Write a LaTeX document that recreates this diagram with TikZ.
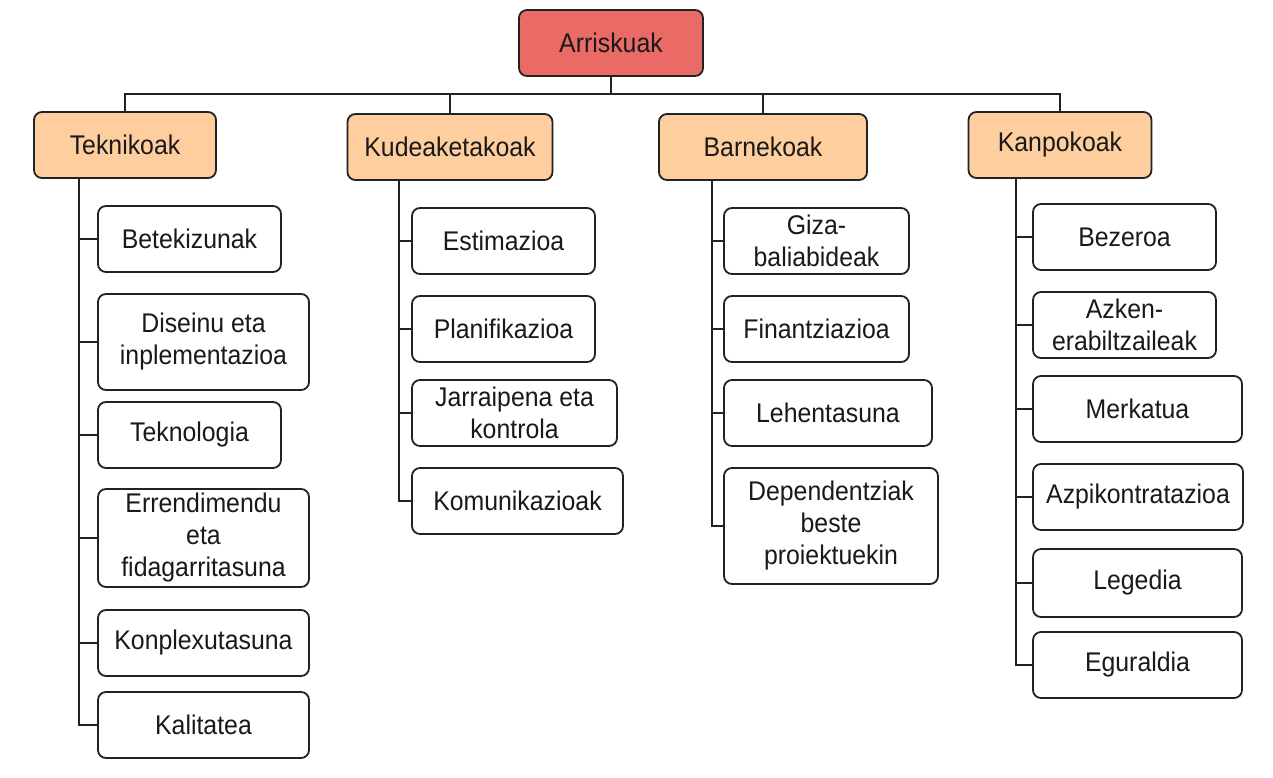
\documentclass[tikz,border=0pt]{standalone}
\usepackage{fontspec}
\setmainfont{Liberation Sans}[FakeStretch=0.92]
\usepackage{tikz}
\usetikzlibrary{calc}

\definecolor{rootred}{HTML}{EA6B66}
\definecolor{grouporange}{HTML}{FFCE9F}
\definecolor{edgegray}{HTML}{222222}

\begin{document}
\begin{tikzpicture}[x=1pt, y=-1pt,
    box/.style={draw=edgegray, line width=1.8pt, rounded corners=8pt, align=center,
        inner sep=2pt, text=black!90, font=\fontsize{27}{32}\selectfont},
    rootbox/.style={box, fill=rootred, minimum width=184pt, minimum height=66pt},
    groupbox/.style={box, fill=grouporange, minimum height=66pt},
    itembox/.style={box, fill=white},
    link/.style={draw=edgegray, line width=2pt}]
    \fill[white] (0,0) rectangle (1273,777);
    \useasboundingbox (0,0) rectangle (1273,777);

\node[rootbox] (root) at (611,43) {Arriskuak};
\coordinate (bus) at (611,94);

\node[groupbox, minimum width=182pt] (tek) at (125,145) {Teknikoak};
\node[groupbox, minimum width=205pt] (kud) at (450,147) {Kudeaketakoak};
\node[groupbox, minimum width=208pt] (bar) at (763,147) {Barnekoak};
\node[groupbox, minimum width=183pt] (kan) at (1060,145) {Kanpokoak};

\draw[link] (root.south) -- (bus) -| (tek.north);
\draw[link] (bus) -| (kud.north);
\draw[link] (bus) -| (bar.north);
\draw[link] (bus) -| (kan.north);

% Teknikoak
\node[itembox, minimum width=183pt, minimum height=66pt] (bet) at (189.5,239) {Betekizunak};
\node[itembox, minimum width=211pt, minimum height=96pt] (dis) at (203.5,342) {Diseinu eta\\inplementazioa};
\node[itembox, minimum width=183pt, minimum height=66pt] (tekn) at (189.5,435) {Teknologia};
\node[itembox, minimum width=211pt, minimum height=98pt] (err) at (203.5,538) {Errendimendu\\eta\\fidagarritasuna};
\node[itembox, minimum width=211pt, minimum height=66pt] (kon) at (203.5,643) {Konplexutasuna};
\node[itembox, minimum width=211pt, minimum height=66pt] (kal) at (203.5,725) {Kalitatea};
\coordinate (tekspine) at (79,178);
\draw[link] (tekspine) |- (kal.west);
\draw[link] (tekspine) |- (bet.west);
\draw[link] (tekspine) |- (dis.west);
\draw[link] (tekspine) |- (tekn.west);
\draw[link] (tekspine) |- (err.west);
\draw[link] (tekspine) |- (kon.west);

% Kudeaketakoak
\node[itembox, minimum width=183pt, minimum height=66pt] (est) at (503.5,241) {Estimazioa};
\node[itembox, minimum width=183pt, minimum height=66pt] (pla) at (503.5,329) {Planifikazioa};
\node[itembox, minimum width=205pt, minimum height=66pt] (jar) at (514.5,413) {Jarraipena eta\\kontrola};
\node[itembox, minimum width=211pt, minimum height=66pt] (kom) at (517.5,501) {Komunikazioak};
\coordinate (kudspine) at (399,180);
\draw[link] (kudspine) |- (kom.west);
\draw[link] (kudspine) |- (est.west);
\draw[link] (kudspine) |- (pla.west);
\draw[link] (kudspine) |- (jar.west);

% Barnekoak
\node[itembox, minimum width=185pt, minimum height=66pt] (giz) at (816.5,241) {Giza-\\baliabideak};
\node[itembox, minimum width=185pt, minimum height=66pt] (fin) at (816.5,329) {Finantziazioa};
\node[itembox, minimum width=208pt, minimum height=66pt] (leh) at (828,413) {Lehentasuna};
\node[itembox, minimum width=214pt, minimum height=116pt] (dep) at (831,526) {Dependentziak\\beste\\proiektuekin};
\coordinate (barspine) at (712,180);
\draw[link] (barspine) |- (dep.west);
\draw[link] (barspine) |- (giz.west);
\draw[link] (barspine) |- (fin.west);
\draw[link] (barspine) |- (leh.west);

% Kanpokoak
\node[itembox, minimum width=183pt, minimum height=66pt] (bez) at (1124.5,237) {Bezeroa};
\node[itembox, minimum width=183pt, minimum height=66pt] (azk) at (1124.5,325) {Azken-\\erabiltzaileak};
\node[itembox, minimum width=209pt, minimum height=66pt] (mer) at (1137.5,409) {Merkatua};
\node[itembox, minimum width=210pt, minimum height=66pt] (azp) at (1138,497) {Azpikontratazioa};
\node[itembox, minimum width=209pt, minimum height=68pt] (leg) at (1137.5,583) {Legedia};
\node[itembox, minimum width=209pt, minimum height=66pt] (egu) at (1137.5,665) {Eguraldia};
\coordinate (kanspine) at (1016,178);
\draw[link] (kanspine) |- (egu.west);
\draw[link] (kanspine) |- (bez.west);
\draw[link] (kanspine) |- (azk.west);
\draw[link] (kanspine) |- (mer.west);
\draw[link] (kanspine) |- (azp.west);
\draw[link] (kanspine) |- (leg.west);
    \end{tikzpicture}
\end{document}
